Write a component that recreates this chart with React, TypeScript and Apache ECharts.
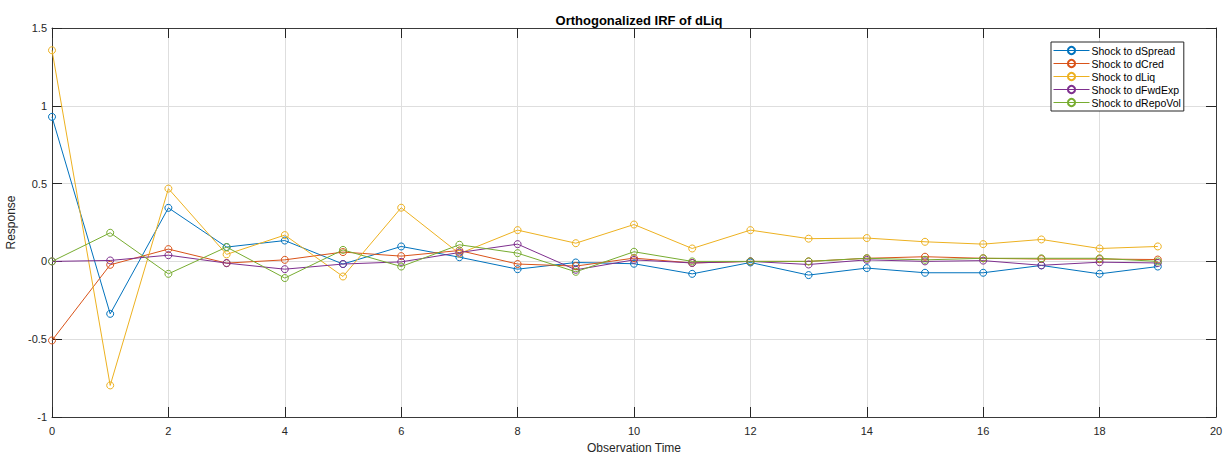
import React, { useEffect, useRef } from "react";
import * as echarts from "echarts";

const steps = [0, 1, 2, 3, 4, 5, 6, 7, 8, 9, 10, 11, 12, 13, 14, 15, 16, 17, 18, 19];
const seriesNames = ["Shock to dSpread", "Shock to dCred", "Shock to dLiq", "Shock to dFwdExp", "Shock to dRepoVol"];
const dSpread = [0.929, -0.337, 0.344, 0.092, 0.134, -0.017, 0.096, 0.027, -0.05, -0.007, -0.015, -0.08, -0.007, -0.088, -0.043, -0.073, -0.073, -0.026, -0.08, -0.033];
const dCred = [-0.508, -0.022, 0.079, -0.011, 0.01, 0.06, 0.034, 0.07, -0.017, -0.03, 0.021, -0.01, 0.0, 0.0, 0.02, 0.03, 0.02, 0.015, 0.015, 0.012];
const dLiq = [1.357, -0.797, 0.468, 0.045, 0.169, -0.097, 0.345, 0.05, 0.201, 0.117, 0.237, 0.083, 0.201, 0.146, 0.15, 0.126, 0.111, 0.141, 0.083, 0.096];
const dFwdExp = [0.0, 0.006, 0.04, -0.011, -0.05, -0.017, -0.003, 0.057, 0.111, -0.054, 0.01, -0.01, 0.0, -0.02, 0.01, 0.0, 0.005, -0.025, -0.005, -0.01];
const dRepoVol = [0.0, 0.184, -0.08, 0.092, -0.107, 0.074, -0.033, 0.107, 0.053, -0.067, 0.062, 0.0, 0.0, 0.0, 0.02, 0.01, 0.02, 0.02, 0.02, 0.0];
const colors = ["#0072BD", "#D95319", "#EDB120", "#7E2F8E", "#77AC30"];
const allValues = [dSpread, dCred, dLiq, dFwdExp, dRepoVol];

const FONT = "Liberation Sans, Arial, sans-serif";

export default function App() {
  const ref = useRef<HTMLDivElement>(null);
  useEffect(() => {
    if (!ref.current) return;
    const chart = echarts.init(ref.current, undefined, { renderer: "svg" });
    const axisCommon = {
      axisLine: { show: true, onZero: false, lineStyle: { color: "#3a3a3a", width: 1 } },
      axisTick: { show: true, inside: true, length: 10, lineStyle: { color: "#262626" } },
    };
    chart.setOption({
      animation: false,
      backgroundColor: "#ffffff",
      title: {
        text: "Orthogonalized IRF of dLiq",
        left: 634,
        textAlign: "center",
        top: 9,
        textStyle: { fontFamily: FONT, fontSize: 13, fontWeight: "bold", color: "#000" },
      },
      legend: {
        orient: "vertical",
        left: 1051,
        top: 42,
        backgroundColor: "#fff",
        borderColor: "#262626",
        borderWidth: 1,
        borderRadius: 0,
        padding: [3, 3, 3, 2],
        itemWidth: 36,
        itemHeight: 9,
        itemGap: 2,
        lineStyle: { width: 1 },
        textStyle: { fontFamily: FONT, fontSize: 10.5, color: "#000", padding: [0, 0, 0, -3] },
        data: seriesNames,
      },
      grid: { left: 52, right: 15, top: 28, bottom: 39, containLabel: false, outerBoundsMode: "none" },
      xAxis: [
        {
          type: "value",
          min: 0,
          max: 20,
          interval: 2,
          name: "Observation Time",
          nameLocation: "middle",
          nameGap: 25,
          nameTextStyle: { fontFamily: FONT, fontSize: 12, color: "#262626" },
          ...axisCommon,
          axisLabel: { fontFamily: FONT, fontSize: 11, color: "#262626", margin: 8 },
          splitLine: { show: true, lineStyle: { color: "#dedede", width: 1 } },
        },
        {
          type: "value",
          position: "top",
          min: 0,
          max: 20,
          interval: 2,
          ...axisCommon,
          axisLabel: { show: false },
          splitLine: { show: false },
        },
      ],
      yAxis: [
        {
          type: "value",
          min: -1,
          max: 1.5,
          interval: 0.5,
          name: "Response",
          nameLocation: "middle",
          nameGap: 32,
          nameTextStyle: { fontFamily: FONT, fontSize: 12, color: "#262626" },
          ...axisCommon,
          axisLabel: { fontFamily: FONT, fontSize: 11, color: "#262626", margin: 5 },
          splitLine: { show: true, lineStyle: { color: "#dedede", width: 1 } },
        },
        {
          type: "value",
          position: "right",
          min: -1,
          max: 1.5,
          interval: 0.5,
          ...axisCommon,
          axisLabel: { show: false },
          splitLine: { show: false },
        },
      ],
      series: seriesNames.map((name, i) => ({
        name,
        type: "line",
        data: steps.map((t, k) => [t, allValues[i][k]]),
        symbol: "circle",
        symbolSize: 7,
        showAllSymbol: true,
        lineStyle: { width: 1, color: colors[i] },
        itemStyle: { color: "rgba(255,255,255,0)", borderColor: colors[i], borderWidth: 1 },
      })),
    });
    return () => chart.dispose();
  }, []);
  return <div ref={ref} style={{ width: 1231, height: 456, position: "absolute", left: 0, top: 0 }} />;
}
